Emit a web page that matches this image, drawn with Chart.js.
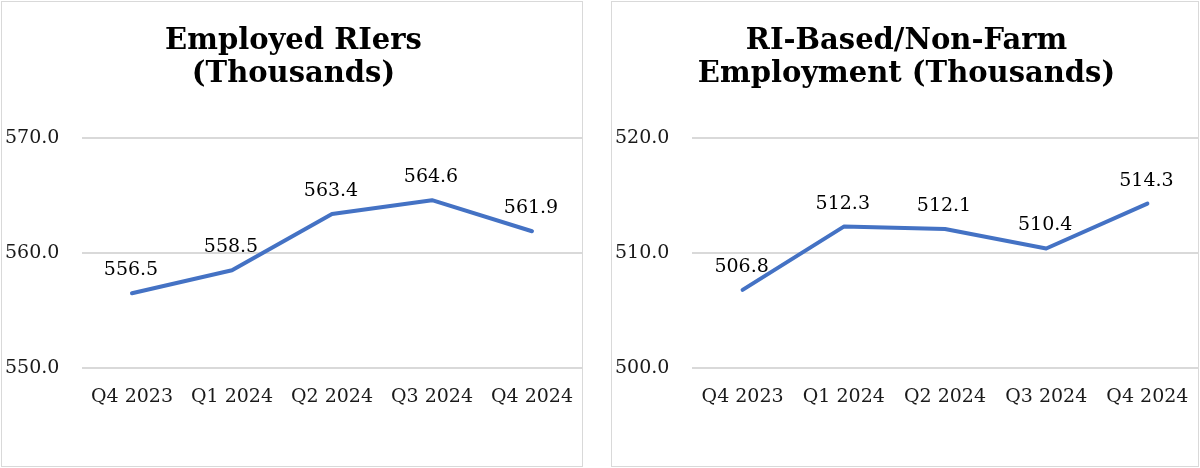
<!DOCTYPE html>
<html>
<head>
<meta charset="utf-8">
<script src="https://cdn.jsdelivr.net/npm/chart.js@4"></script>
<style>
    body { margin: 0; background: #ffffff; width: 1200px; height: 468px; position: relative; overflow: hidden; }
    .panel { position: absolute; top: 1px; height: 464px; border: 1px solid #d9d9d9; background: #ffffff; }
    #leftPanel { left: 1px; width: 580px; }
    #rightPanel { left: 611px; width: 586px; }
    canvas { display: block; }
</style>
</head>
<body>
<div class="panel" id="leftPanel"><canvas id="employedChart"></canvas></div>
<div class="panel" id="rightPanel"><canvas id="nonFarmChart"></canvas></div>
<script>
const quarters = ['Q4 2023', 'Q1 2024', 'Q2 2024', 'Q3 2024', 'Q4 2024'];

const employedRIers = [556.5, 558.5, 563.4, 564.6, 561.9];
const employedTicks = [550, 560, 570];

const riBasedNonFarm = [506.8, 512.3, 512.1, 510.4, 514.3];
const nonFarmTicks = [500, 510, 520];

const serif = "'DejaVu Serif', 'Liberation Serif', serif";

// draws the value above each point
const pointLabels = {
    id: 'pointLabels',
    afterDatasetsDraw(chart) {
        const ctx = chart.ctx;
        const meta = chart.getDatasetMeta(0);
        const values = chart.data.datasets[0].data;
        ctx.save();
        ctx.font = '19px ' + serif;
        ctx.fillStyle = '#000000';
        ctx.textAlign = 'center';
        ctx.textBaseline = 'middle';
        meta.data.forEach((pt, i) => {
            ctx.fillText(values[i].toFixed(1), pt.x - 1, pt.y - 23);
        });
        ctx.restore();
    }
};

function makeChart(canvasId, title, values, ticks) {
    const ctx = document.getElementById(canvasId).getContext('2d');
    return new Chart(ctx, {
        type: 'line',
        data: {
            labels: quarters,
            datasets: [{
                data: values,
                borderColor: '#4472c4',
                borderWidth: 4,
                borderCapStyle: 'round',
                borderJoinStyle: 'round',
                pointRadius: 0,
                tension: 0,
                fill: false,
            }]
        },
        options: {
            responsive: true,
            maintainAspectRatio: false,
            animation: false,
            layout: {
                padding: { left: 3, right: 0, top: 0, bottom: 0 }
            },
            plugins: {
                legend: { display: false },
                tooltip: { enabled: false },
                title: {
                    display: true,
                    text: title,
                    color: '#000000',
                    font: { family: serif, size: 29, weight: 'bold', lineHeight: 1.14 },
                    padding: { top: 23, bottom: 47 },
                },
            },
            scales: {
                x: {
                    offset: true,
                    grid: { display: false, drawTicks: false },
                    border: { display: false },
                    ticks: {
                        color: '#1a1a1a',
                        font: { family: serif, size: 19 },
                        padding: 18,
                        maxRotation: 0,
                        autoSkip: false,
                    },
                    afterFit: scale => {
                        scale.height = 98;
                        scale.paddingLeft = 0;
                        scale.paddingRight = 0;
                    },
                },
                y: {
                    min: ticks[0],
                    max: ticks[ticks.length - 1],
                    grid: { color: '#d9d9d9', lineWidth: 2, drawTicks: false },
                    border: { display: false },
                    ticks: {
                        stepSize: ticks[1] - ticks[0],
                        color: '#1a1a1a',
                        crossAlign: 'far',
                        padding: 0,
                        font: { family: serif, size: 19 },
                        callback: value => value.toFixed(1),
                    },
                    afterFit: scale => { scale.width = 77; },
                },
            },
        },
        plugins: [pointLabels],
    });
}

makeChart('employedChart', ['Employed RIers', '(Thousands)'], employedRIers, employedTicks);
makeChart('nonFarmChart', ['RI-Based/Non-Farm', 'Employment (Thousands)'], riBasedNonFarm, nonFarmTicks);
</script>
</body>
</html>
